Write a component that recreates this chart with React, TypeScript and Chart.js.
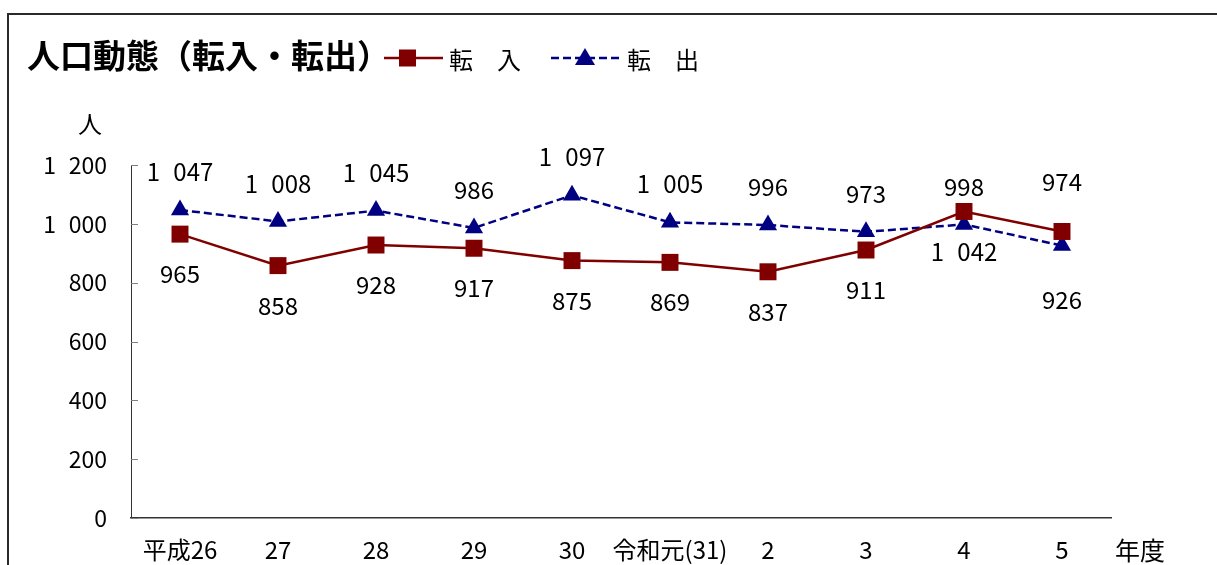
import React, { useEffect, useRef } from "react";
import { Chart, registerables } from "chart.js";

Chart.register(...registerables);

const categories = ["平成26", "27", "28", "29", "30", "令和元(31)", "2", "3", "4", "5"];
const tennyu = [965, 858, 928, 917, 875, 869, 837, 911, 1042, 974];
const tenshutsu = [1047, 1008, 1045, 986, 1097, 1005, 996, 973, 998, 926];
const yTicks = [0, 200, 400, 600, 800, 1000, 1200];

const titleText = "人口動態（転入・転出）";
const seriesNames = ["転\u3000入", "転\u3000出"];
const unitText = "人";
const xUnitText = "年度";

const RED = "#800000";
const BLUE = "#000080";
const FONT = '"Noto Sans CJK JP", "Noto Sans", sans-serif';

const fmt = (v: number) => {
  if (v >= 1000) {
    return `${Math.floor(v / 1000)}\u2007${String(v % 1000).padStart(3, "0")}`;
  }
  return String(v);
};

// label offsets (px) relative to marker: negative = above
const redOffset = (i: number) => (i === tennyu.length - 1 ? -50 : 40);
const blueOffset = (i: number) => (i === tenshutsu.length - 1 ? 54 : -38);

const overlayPlugin = {
  id: "overlay",
  afterDraw(chart: any) {
    const ctx: CanvasRenderingContext2D = chart.ctx;
    const yScale = chart.scales.y;
    const xScale = chart.scales.x;
    const area = chart.chartArea;
    ctx.save();

    // inside ticks on y-axis
    ctx.strokeStyle = "#808080";
    ctx.lineWidth = 1;
    yTicks.forEach((t) => {
      const y = Math.round(yScale.getPixelForValue(t)) + 0.5;
      ctx.beginPath();
      ctx.moveTo(area.left, y);
      ctx.lineTo(area.left + 7, y);
      ctx.stroke();
    });

    // data labels
    ctx.fillStyle = "#000";
    ctx.font = `24px ${FONT}`;
    ctx.textAlign = "center";
    ctx.textBaseline = "middle";
    const m0 = chart.getDatasetMeta(0);
    const m1 = chart.getDatasetMeta(1);
    m0.data.forEach((pt: any, i: number) => {
      ctx.fillText(fmt(tennyu[i]), pt.x, pt.y + redOffset(i));
    });
    m1.data.forEach((pt: any, i: number) => {
      ctx.fillText(fmt(tenshutsu[i]), pt.x, pt.y + blueOffset(i));
    });

    // title
    ctx.textAlign = "left";
    ctx.font = `bold 33px ${FONT}`;
    ctx.fillText(titleText, 27, 55);
    const tw = ctx.measureText(titleText).width;

    // legend series 1
    const lx = Math.min(27 + tw - 6, 385);
    const ly = 58;
    ctx.strokeStyle = RED;
    ctx.lineWidth = 2.5;
    ctx.beginPath();
    ctx.moveTo(lx, ly);
    ctx.lineTo(443, ly);
    ctx.stroke();
    ctx.fillStyle = RED;
    ctx.fillRect(399, ly - 8.5, 17, 17);
    ctx.fillStyle = "#000";
    ctx.font = `24px ${FONT}`;
    ctx.fillText(seriesNames[0], 449, 60);

    // legend series 2
    ctx.strokeStyle = BLUE;
    ctx.setLineDash([8, 4]);
    ctx.beginPath();
    ctx.moveTo(551, ly);
    ctx.lineTo(621, ly);
    ctx.stroke();
    ctx.setLineDash([]);
    ctx.fillStyle = BLUE;
    ctx.beginPath();
    ctx.moveTo(585, ly - 10);
    ctx.lineTo(595, ly + 7);
    ctx.lineTo(575, ly + 7);
    ctx.closePath();
    ctx.fill();
    ctx.fillStyle = "#000";
    ctx.fillText(seriesNames[1], 627, 60);

    // units
    ctx.font = `24px ${FONT}`;
    ctx.textAlign = "center";
    ctx.fillText(unitText, 90, 124);
    ctx.textAlign = "left";
    const lastX = xScale.getPixelForValue(categories.length - 1);
    ctx.font = `25px ${FONT}`;
    ctx.fillText(xUnitText, lastX + 53, 550);

    ctx.restore();
  },
};

export default function App() {
  const ref = useRef<HTMLCanvasElement | null>(null);

  useEffect(() => {
    if (!ref.current) return;
    const chart = new Chart(ref.current, {
      type: "line",
      data: {
        labels: categories,
        datasets: [
          {
            label: seriesNames[0],
            data: tennyu,
            borderColor: RED,
            backgroundColor: RED,
            borderWidth: 2.5,
            pointStyle: "rect",
            pointRadius: 12,
            pointBorderWidth: 0,
            tension: 0,
          },
          {
            label: seriesNames[1],
            data: tenshutsu,
            borderColor: BLUE,
            backgroundColor: BLUE,
            borderWidth: 2.5,
            borderDash: [8, 4],
            pointStyle: "triangle",
            pointRadius: 10.5,
            pointBorderWidth: 0,
            tension: 0,
          },
        ],
      },
      options: {
        responsive: false,
        animation: false,
        events: [],
        devicePixelRatio: 1,
        layout: { padding: { left: 0, top: 165, right: 106, bottom: 0 } },
        plugins: {
          legend: { display: false },
          title: { display: false },
          tooltip: { enabled: false },
        },
        scales: {
          x: {
            offset: true,
            grid: { display: false, drawTicks: false },
            border: { display: true, color: "#333", width: 1.5 },
            ticks: {
              color: "#000",
              font: { family: FONT, size: 24 },
              padding: 17,
              maxRotation: 0,
              autoSkip: false,
            },
            afterFit: (s: any) => {
              s.height = 47;
            },
          },
          y: {
            min: 0,
            max: 1200,
            grid: { display: false, drawTicks: false },
            border: { display: true, color: "#333", width: 1 },
            afterBuildTicks: (s: any) => {
              s.ticks = yTicks.map((v) => ({ value: v }));
            },
            ticks: {
              color: "#000",
              font: { family: FONT, size: 23 },
              padding: 24,
              callback: (v: any) => fmt(Number(v)),
            },
            afterFit: (s: any) => {
              s.width = 131;
            },
          },
        },
      },
      plugins: [overlayPlugin],
    });
    return () => chart.destroy();
  }, []);

  return (
    <div
      style={{
        position: "fixed",
        left: 0,
        top: 0,
        width: 1217,
        height: 565,
        overflow: "hidden",
        background: "#fff",
      }}
    >
      <div
        style={{
          position: "absolute",
          left: 7,
          top: 13,
          width: 1400,
          height: 800,
          border: "2px solid #2a2a2a",
          boxSizing: "border-box",
        }}
      />
      <canvas
        ref={ref}
        width={1217}
        height={565}
        style={{ position: "absolute", left: 0, top: 0, width: 1217, height: 565 }}
      />
    </div>
  );
}
